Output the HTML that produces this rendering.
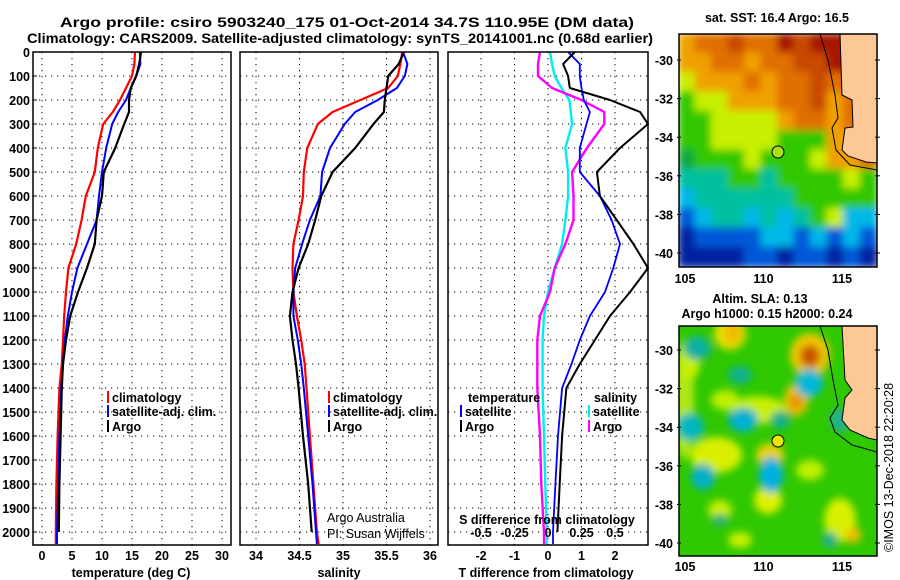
<!DOCTYPE html>
<html><head><meta charset="utf-8"><style>
html,body{margin:0;padding:0;background:#fff;}
svg{display:block;font-family:"Liberation Sans",Arial,sans-serif;}
.b{font-weight:bold;font-size:12.5px;}
</style></head><body>
<svg id="fig" width="900" height="580" viewBox="0 0 900 580" xmlns="http://www.w3.org/2000/svg">
<g font-weight="bold" font-size="14">
<text x="60" y="27" textLength="574" lengthAdjust="spacingAndGlyphs">Argo profile: csiro 5903240_175 01-Oct-2014 34.7S 110.95E (DM data)</text>
<text x="27" y="43" textLength="626" lengthAdjust="spacingAndGlyphs">Climatology: CARS2009. Satellite-adjusted climatology: synTS_20141001.nc (0.68d earlier)</text>
</g>
<g id="panels"></g>
<g id="maps"></g>
</svg>
<script>
// ---- profile data ----
const depths = [0,50,100,150,200,250,300,400,500,600,700,800,900,1000,1100,1200,1300,1400,1600,1800,2000,2050];
const tempClim = [15.5,15.4,15.0,14.0,13.0,11.8,10.2,9.3,8.8,7.3,6.6,5.7,4.4,4.0,3.7,3.5,3.3,2.9,2.6,2.4,2.3,2.3];
const tempSat  = [16.3,16.4,15.7,14.8,14.0,12.7,11.7,10.7,10.0,9.5,9.1,7.5,5.9,5.0,4.3,3.8,3.5,3.2,2.9,2.7,2.5,2.5];
const tempArgo = [16.5,16.2,15.7,14.8,14.5,14.5,13.7,12.2,10.3,10.0,9.1,8.8,7.5,6.0,4.7,4.0,3.5,3.3,3.1,2.9,2.8,null];
const salClim = [35.68,35.66,35.63,35.52,35.20,34.88,34.71,34.59,34.55,34.54,34.49,34.43,34.42,34.43,34.47,34.52,34.56,34.58,34.62,34.66,34.70,34.72];
const salSat  = [35.69,35.74,35.71,35.62,35.40,35.14,35.02,34.85,34.76,34.74,34.62,34.53,34.45,34.43,34.43,34.48,34.52,34.55,34.60,34.65,34.69,34.70];
const salArgo = [35.70,35.64,35.52,35.50,35.48,35.47,35.35,35.14,34.88,34.75,34.68,34.60,34.49,34.42,34.39,34.42,34.46,34.49,34.54,34.60,34.64,null];
const dTsat  = [0.6,0.95,0.95,1.0,1.07,1.25,1.15,0.95,0.95,1.55,1.9,2.15,1.95,1.7,1.25,0.95,0.7,0.42,0.3,0.22,0.15,0.15];
const dTargo = [0.8,0.45,0.6,0.65,1.85,2.75,3.3,2.15,1.46,1.55,2.05,2.55,3.0,2.45,1.85,1.4,0.95,0.55,0.42,0.35,0.28,null];
const dSsat  = [0.015,0.03,0.05,0.1,0.16,0.17,0.18,0.13,0.15,0.15,0.13,0.105,0.05,0.0,-0.03,-0.04,-0.04,-0.04,-0.03,-0.02,-0.01,-0.01];
const dSargo = [-0.06,-0.075,-0.075,0.03,0.25,0.42,0.42,0.29,0.18,0.19,0.19,0.13,0.05,0.015,-0.06,-0.08,-0.08,-0.08,-0.06,-0.05,-0.03,-0.03];
const depthTicks = [0,100,200,300,400,500,600,700,800,900,1000,1100,1200,1300,1400,1500,1600,1700,1800,1900,2000];
const tempTicks = [0,5,10,15,20,25,30];
const salTicks = [34,34.5,35,35.5,36];
const salTickLabels = ["34","34.5","35","35.5","36"];
const dTTicks = [-2,-1,0,1,2];
const dSTicks = [-0.5,-0.25,0,0.25,0.5];
const dSTickLabels = ["-0.5","-0.25","0","0.25","0.5"];

const NS="http://www.w3.org/2000/svg";
function mk(tag,attrs,parent){const e=document.createElementNS(NS,tag);for(const k in attrs)e.setAttribute(k,attrs[k]);(parent||document.getElementById('fig')).appendChild(e);return e;}
const TOP=52, BOT=545;
const yD = d => TOP + d*0.24;
const xT = t => 42 + 6*t;
const xS = s => 256 + 87*(s-34);
const xDT = t => 548 + 33.5*t;
const xDS = s => 548 + 134*s;
const panels=[{x0:33,x1:231},{x0:240,x1:438},{x0:448,x1:648}];
const pg=document.getElementById('panels');

function grid(p,xs,name){
  const g=mk('g',{},pg);
  
  
  depthTicks.forEach(d=>{mk('line',{x1:p.x0,x2:p.x1,y1:yD(d),y2:yD(d),stroke:'#000','stroke-width':1,'stroke-dasharray':'1.2 4.8'},g);});
  xs.forEach(x=>{mk('line',{x1:x,x2:x,y1:TOP,y2:BOT,stroke:'#000','stroke-width':1,'stroke-dasharray':'1.2 4.8'},g);});
}
function frame(p,name){
  const r=mk('rect',{x:p.x0,y:TOP,width:p.x1-p.x0,height:BOT-TOP,fill:'none',stroke:'#000','stroke-width':1.5},pg);
  
  
}
function line(vals,fx,color,name,w,p){
  let d='';let started=false;
  vals.forEach((v,i)=>{if(v===null)return;let x=Math.max(p.x0,Math.min(p.x1,fx(v)));d+=(started?'L':'M')+x.toFixed(1)+','+yD(depths[i]).toFixed(1);started=true;});
  const e=mk('path',{d:d,fill:'none',stroke:color,'stroke-width':w||2,'stroke-linejoin':'round'},pg);
  
  
}
function txt(x,y,s,opts,parent,name){
  const e=mk('text',Object.assign({x:x,y:y},opts||{}),parent||pg);
  e.textContent=s;
  
  
  return e;
}
grid(panels[0],tempTicks.map(xT),'temperature-grid');
grid(panels[1],salTicks.map(xS),'salinity-grid');
grid(panels[2],dTTicks.map(xDT),'difference-grid');
depthTicks.forEach(d=>{txt(30,yD(d)+5,String(d),{'text-anchor':'end','class':'b'},pg,'depth-tick-label');
  mk('line',{x1:33,x2:37,y1:yD(d),y2:yD(d),stroke:'#000'},pg);});
line(tempClim,xT,'#ff0000','temp-climatology-line',2.2,panels[0]);
line(tempSat,xT,'#0000ff','temp-satellite-line',2,panels[0]);
line(tempArgo,xT,'#000','temp-argo-line',2.2,panels[0]);
line(salClim,xS,'#ff0000','sal-climatology-line',2.2,panels[1]);
line(salSat,xS,'#0000ff','sal-satellite-line',2,panels[1]);
line(salArgo,xS,'#000','sal-argo-line',2.2,panels[1]);
line(dSsat,xDS,'#00eeee','dS-satellite-line',2.4,panels[2]);
line(dSargo,xDS,'#ff00ff','dS-argo-line',2.4,panels[2]);
line(dTsat,xDT,'#0000ff','dT-satellite-line',1.8,panels[2]);
line(dTargo,xDT,'#000','dT-argo-line',2,panels[2]);
panels.forEach((p,i)=>frame(p,['temperature-panel','salinity-panel','difference-panel'][i]));
tempTicks.forEach(t=>txt(xT(t),560,String(t),{'text-anchor':'middle','class':'b'},pg,'temp-tick-label'));
salTicks.forEach((s,i)=>txt(xS(s),560,salTickLabels[i],{'text-anchor':'middle','class':'b'},pg,'sal-tick-label'));
dTTicks.forEach(t=>txt(xDT(t),560,String(t),{'text-anchor':'middle','class':'b'},pg,'dT-tick-label'));
dSTicks.forEach((s,i)=>txt(xDS(s),537,dSTickLabels[i],{'text-anchor':'middle','class':'b'},pg,'dS-tick-label'));
txt(131,577,'temperature (deg C)',{'text-anchor':'middle','class':'b'},pg,'x-axis-title-temperature');
txt(339,577,'salinity',{'text-anchor':'middle','class':'b'},pg,'x-axis-title-salinity');
txt(546,577,'T difference from climatology',{'text-anchor':'middle','class':'b'},pg,'x-axis-title-dT');
txt(547,524,'S difference from climatology',{'text-anchor':'middle','class':'b'},pg,'dS-axis-title');
txt(327,522,'Argo Australia',{'font-size':'12.5'},pg,'credit-line-1');
txt(327,538,'PI: Susan Wijffels',{'font-size':'12.5'},pg,'credit-line-2');
function leg(x,y,color,label,name){
  const g=mk('g',{},pg);
  
  
  mk('line',{x1:x,x2:x,y1:y-11,y2:y+1,stroke:color,'stroke-width':2},g);
  txt(x+4,y,label,{'class':'b'},g,name+'-text');
}
leg(108,402,'#ff0000','climatology','legend-climatology');
leg(108,416,'#0000ff','satellite-adj. clim.','legend-satellite');
leg(108,431,'#000','Argo','legend-argo');
leg(329,402,'#ff0000','climatology','legend-sal-climatology');
leg(329,416,'#0000ff','satellite-adj. clim.','legend-sal-satellite');
leg(329,431,'#000','Argo','legend-sal-argo');
txt(468,402,'temperature',{'class':'b'},pg,'legend-title-temperature');
txt(594,402,'salinity',{'class':'b'},pg,'legend-title-salinity');
leg(461,416,'#0000ff','satellite','legend-dT-satellite');
leg(461,431,'#000','Argo','legend-dT-argo');
leg(589,416,'#00eeee','satellite','legend-dS-satellite');
leg(589,431,'#ff00ff','Argo','legend-dS-argo');

// ---- maps ----
const mg=document.getElementById('maps');
const C={R:'#a81800',r:'#c84800',o:'#e07000',O:'#f0a000',Y:'#f0e000',l:'#c8f000',g:'#30c800',G:'#10a840',t:'#00c0a0',c:'#00b8e8',b:'#0058d8',n:'#0020a0'};
const sstRows=["OoorooRrRRRr","OOooOoorrRRr","lOOOoOoororr","gllOOOoorOor","ggllllOooOoo","ggllllgggOOo","GggglggglOOo","tttggtgggglg","cttttttggggg","bcttctctglcc","nbbbbccbcbcb","nnnnbbnbbnbn"];
function grp(name){const g=mk('g',{},mg);return g;}
const m1={x0:679,y0:34,x1:877,y1:267};
const g1=grp('sst-map');
const cp1=mk('clipPath',{id:'c1'},g1);mk('rect',{x:m1.x0,y:m1.y0,width:m1.x1-m1.x0,height:m1.y1-m1.y0},cp1);
const f=mk('filter',{id:'bl',x:'-10%',y:'-10%',width:'120%',height:'120%'},g1);mk('feGaussianBlur',{stdDeviation:'4'},f);
const gs=mk('g',{'clip-path':'url(#c1)'},g1);
const gsi=mk('g',{filter:'url(#bl)'},gs);
const cw=(m1.x1-m1.x0)/12, ch=(m1.y1-m1.y0)/12;
sstRows.forEach((row,j)=>{[...row].forEach((k,i)=>{mk('rect',{x:m1.x0+i*cw-1,y:m1.y0+j*ch-1,width:cw+2,height:ch+2,fill:C[k]},gsi);});});
mk('polygon',{points:'840,34 842,95 852,100 853,127 845,128 842,150 848,156 866,162 877,163 877,34',fill:'#fcc896',stroke:'#000','stroke-width':1},gs);
mk('polyline',{points:'820,34 828,60 835,95 838,118 832,128 836,150 850,165 877,170',fill:'none',stroke:'#000','stroke-width':1},gs);
mk('rect',{x:m1.x0,y:m1.y0,width:m1.x1-m1.x0,height:m1.y1-m1.y0,fill:'none',stroke:'#000','stroke-width':1.5},g1);
mk('circle',{cx:778,cy:152,r:6,fill:'#a8e010',stroke:'#000','stroke-width':1},g1);
txt(777,22,'sat. SST: 16.4 Argo: 16.5',{'text-anchor':'middle','class':'b'},g1,'sst-map-title');
const m2={x0:679,y0:326,x1:877,y1:556};
const g2=grp('sla-map');
const cp2=mk('clipPath',{id:'c2'},g2);mk('rect',{x:m2.x0,y:m2.y0,width:m2.x1-m2.x0,height:m2.y1-m2.y0},cp2);
const f2=mk('filter',{id:'bl2',x:'-50%',y:'-50%',width:'200%',height:'200%'},g2);mk('feGaussianBlur',{stdDeviation:'4'},f2);
const g2c=mk('g',{'clip-path':'url(#c2)'},g2);
mk('rect',{x:m2.x0,y:m2.y0,width:198,height:230,fill:'#30c800'},g2c);
const g2b=mk('g',{filter:'url(#bl2)'},g2c);
const blobs=[[684,400,10,60,'#b0e818'],[690,360,10,20,'#c8f000'],[730,334,16,16,'#e8e000'],[733,333,8,10,'#f0b800'],[716,455,26,18,'#d8f000'],[770,455,14,12,'#e8d000'],[758,410,28,14,'#c8f000'],[725,400,14,10,'#c0f000'],[768,500,14,14,'#e0f000'],[810,355,20,22,'#f0c800'],[810,356,10,11,'#c85000'],[796,400,12,16,'#f0c000'],[796,402,6,8,'#e09000'],[840,520,16,22,'#d8f000'],[853,535,8,8,'#f0c000'],[720,510,12,10,'#c8f000'],[810,470,14,10,'#c0f000'],[740,540,12,8,'#c8f000'],
[690,427,14,14,'#00b8c0'],[743,420,15,12,'#00b0d0'],[703,477,12,13,'#00b0c8'],[771,475,12,18,'#00b0e0'],[809,383,14,14,'#00b8d8'],[697,348,14,12,'#10b0a0'],[780,420,10,9,'#10b090'],[740,375,12,9,'#10b090'],[720,520,8,6,'#20b080'],[840,420,10,12,'#20b090'],[830,540,8,8,'#20b090']];
blobs.forEach(b=>mk('ellipse',{cx:b[0],cy:b[1],rx:b[2],ry:b[3],fill:b[4]},g2b));
mk('polygon',{points:'842,326 845,380 852,390 845,398 842,420 850,430 868,438 877,440 877,326',fill:'#fcc896',stroke:'#000','stroke-width':1},g2c);
mk('polyline',{points:'820,326 828,350 833,380 838,405 830,418 835,432 852,445 877,452',fill:'none',stroke:'#000','stroke-width':1},g2c);
mk('rect',{x:m2.x0,y:m2.y0,width:198,height:230,fill:'none',stroke:'#000','stroke-width':1.5},g2);
mk('circle',{cx:778,cy:441,r:6,fill:'#e8e800',stroke:'#000','stroke-width':1},g2);
txt(760,303,'Altim. SLA: 0.13',{'text-anchor':'middle','class':'b'},g2,'sla-map-title');
txt(767,318,'Argo h1000: 0.15 h2000: 0.24',{'text-anchor':'middle','class':'b'},g2,'sla-map-subtitle');
const lats=[-30,-32,-34,-36,-38,-40];
const lons=[105,110,115];
[[60,g1,283],[350,g2,571]].forEach(([y30,g,ylab])=>{
  lats.forEach(la=>{const y=y30+(-30-la)*19.3;txt(673,y+5,String(la),{'text-anchor':'end','class':'b'},g,'lat-tick-label');
    mk('line',{x1:677,x2:681,y1:y,y2:y,stroke:'#000'},g);mk('line',{x1:875,x2:880,y1:y,y2:y,stroke:'#000'},g);});
  lons.forEach(lo=>{const x=685+(lo-105)*15.7;txt(x,ylab,String(lo),{'text-anchor':'middle','class':'b'},g,'lon-tick-label');});
});
txt(0,0,'©IMOS 13-Dec-2018 22:20:28',{'font-size':'12.5','transform':'translate(893,552) rotate(-90)'},mg,'timestamp');
</script>
</body></html>
